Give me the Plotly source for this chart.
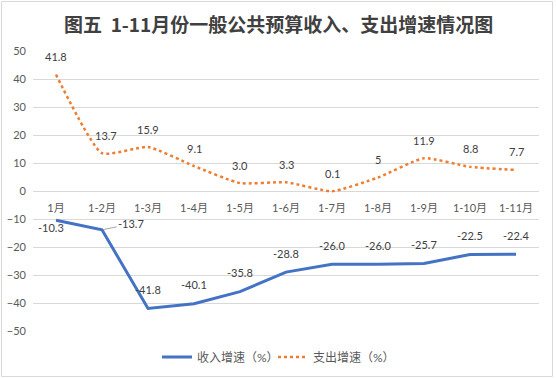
import plotly.graph_objects as go

categories = ["1月", "1-2月", "1-3月", "1-4月", "1-5月", "1-6月", "1-7月", "1-8月", "1-9月", "1-10月", "1-11月"]
income = [-10.3, -13.7, -41.8, -40.1, -35.8, -28.8, -26.0, -26.0, -25.7, -22.5, -22.4]
income_labels = ["-10.3", "-13.7", "-41.8", "-40.1", "-35.8", "-28.8", "-26.0", "-26.0", "-25.7", "-22.5", "-22.4"]
spend = [41.8, 13.7, 15.9, 9.1, 3.0, 3.3, 0.1, 5, 11.9, 8.8, 7.7]
spend_labels = ["41.8", "13.7", "15.9", "9.1", "3.0", "3.3", "0.1", "5", "11.9", "8.8", "7.7"]
y_ticks = [-50, -40, -30, -20, -10, 0, 10, 20, 30, 40, 50]

FONT = "Lato, Noto Sans CJK SC, sans-serif"
BLUE = "#4472C4"
ORANGE = "#ED7D31"
LABEL_COLOR = "#404040"

L, R, T, B = 33, 539, 51, 332
PW, PH = R - L, B - T

fig = go.Figure()
fig.add_trace(go.Scatter(
    x=categories, y=income, mode="lines", name="收入增速（%）",
    line=dict(color=BLUE, width=3),
))
fig.add_trace(go.Scatter(
    x=categories, y=spend, mode="lines", name="支出增速（%）",
    line=dict(color=ORANGE, width=2.5, dash="dot", shape="spline", smoothing=0.5),
))

annotations = []
for i, (v, t) in enumerate(zip(spend, spend_labels)):
    annotations.append(dict(x=i, y=v, xref="x", yref="y", text=t, showarrow=False,
                            yshift=18, xshift=4 if i == 1 else 0,
                            font=dict(family=FONT, size=11, color=LABEL_COLOR)))
for i, (v, t) in enumerate(zip(income, income_labels)):
    if i == 0:
        annotations.append(dict(x=i, y=v, xref="x", yref="y", text=t, showarrow=False,
                                xshift=-5, yshift=-7,
                                font=dict(family=FONT, size=11, color=LABEL_COLOR)))
    elif i == 1:
        annotations.append(dict(x=i, y=v, xref="x", yref="y", text=t, showarrow=True,
                                arrowhead=0, arrowwidth=1, arrowcolor="#A6A6A6",
                                ax=29, ay=-6, standoff=1,
                                font=dict(family=FONT, size=11, color=LABEL_COLOR)))
    else:
        annotations.append(dict(x=i, y=v, xref="x", yref="y", text=t, showarrow=False,
                                yshift=19,
                                font=dict(family=FONT, size=11, color=LABEL_COLOR)))

annotations.append(dict(
    text="<b>图五  1-11月份一般公共预算收入、支出增速情况图</b>",
    xref="paper", yref="paper", x=(278 - L) / PW, y=1 + (T - 23) / PH,
    xanchor="center", yanchor="middle", showarrow=False,
    font=dict(family="Noto Sans CJK SC, sans-serif", size=19, color="#404040"),
))

fig.update_layout(
    width=556, height=378,
    margin=dict(l=L, r=556 - R, t=T, b=378 - B, autoexpand=False),
    paper_bgcolor="white", plot_bgcolor="white",
    font=dict(family=FONT, size=11, color="#595959"),
    showlegend=True,
    legend=dict(orientation="h", x=(157 - L) / PW, y=-(357 - B) / PH, xanchor="left", yanchor="middle",
                font=dict(family=FONT, size=12, color="#595959"), itemwidth=30,
                entrywidth=71, entrywidthmode="pixels"),
    annotations=annotations,
    shapes=[dict(type="rect", xref="paper", yref="paper",
                 x0=(1.5 - L) / PW, x1=(552.5 - L) / PW,
                 y0=-(376.5 - B) / PH, y1=1 + (T - 1.5) / PH,
                 line=dict(color="#D9D9D9", width=1), layer="below")],
)
fig.update_xaxes(
    type="category", range=[-0.5, 10.5], anchor="free", position=0.5,
    showgrid=False, showline=False, zeroline=False, ticks="", automargin=False,
    tickfont=dict(family=FONT, size=11, color="#595959"),
    ticklabelstandoff=8,
)
fig.update_yaxes(
    range=[-50.2, 50.2], tickvals=y_ticks, showgrid=True, gridcolor="#D9D9D9", gridwidth=1,
    zeroline=True, zerolinecolor="#D9D9D9", zerolinewidth=1, showline=False, automargin=False,
    tickfont=dict(family=FONT, size=11, color="#595959"), ticks="", ticklabelstandoff=6,
)

fig.write_html("out.html", config={"displayModeBar": False},
               post_script="document.body.style.margin='0';document.body.style.overflow='hidden';")
